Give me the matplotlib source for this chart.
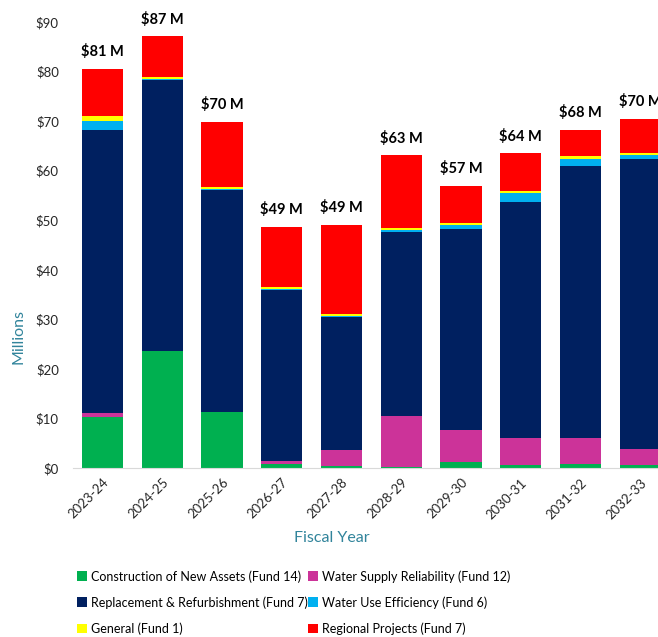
import matplotlib.pyplot as plt
import numpy as np

plt.rcParams['font.family'] = ['Lato', 'DejaVu Sans']

years = ["2023-24", "2024-25", "2025-26", "2026-27", "2027-28",
         "2028-29", "2029-30", "2030-31", "2031-32", "2032-33"]
construction = [10.2, 23.7, 11.2, 0.9, 0.5, 0.3, 1.2, 0.6, 0.9, 0.6]
supply = [0.8, 0.0, 0.0, 0.5, 3.2, 10.1, 6.5, 5.5, 5.2, 3.2]
replacement = [57.3, 54.6, 44.9, 34.5, 26.7, 37.2, 40.6, 47.6, 54.8, 58.6]
efficiency = [1.7, 0.1, 0.1, 0.2, 0.2, 0.5, 0.7, 1.7, 1.5, 0.8]
general = [1.1, 0.4, 0.5, 0.4, 0.4, 0.4, 0.4, 0.5, 0.5, 0.4]
regional = [9.4, 8.3, 13.2, 12.2, 18.0, 14.6, 7.6, 7.6, 5.4, 6.8]
total_labels = [81, 87, 70, 49, 49, 63, 57, 64, 68, 70]

series = [
    ("Construction of New Assets (Fund 14)", construction, "#00B050"),
    ("Water Supply Reliability (Fund 12)", supply, "#CC3399"),
    ("Replacement & Refurbishment (Fund 7)", replacement, "#002060"),
    ("Water Use Efficiency (Fund 6)", efficiency, "#00B0F0"),
    ("General (Fund 1)", general, "#FFFF00"),
    ("Regional Projects (Fund 7)", regional, "#FF0000"),
]

fig = plt.figure(figsize=(6.58, 6.37), dpi=100)
ax = fig.add_axes([0.1105, 0.2653, 0.908, 0.7002])

x = np.arange(len(years))
bottom = np.zeros(len(years))
bars = []
for name, vals, color in series:
    bars.append(ax.bar(x, vals, 0.69, bottom=bottom, color=color, label=name))
    bottom += np.array(vals)

for xi, top, lab in zip(x, bottom, total_labels):
    ax.annotate("\\$%d M" % lab, (xi, top), xytext=(0, 7), textcoords="offset points",
                ha="center", va="bottom", fontsize=10.5, fontweight="bold", color="black")

ax.set_xlim(-0.5, len(years) - 0.5)
ax.set_ylim(0, 90)
ax.set_yticks(np.arange(0, 91, 10))
ax.set_yticklabels(["\\$%d" % v for v in range(0, 91, 10)], fontsize=9.5, color="#262626")
ax.set_xticks(x)
ax.set_xticklabels(years, rotation=45, ha="right", rotation_mode="anchor",
                   fontsize=9.5, color="#262626")
ax.tick_params(axis="y", length=0, pad=10)
ax.tick_params(axis="x", length=0, pad=6)
for s in ["top", "right", "left"]:
    ax.spines[s].set_visible(False)
ax.spines["bottom"].set_color("#D9D9D9")

fig.text(332 / 658, 1 - 538 / 637, "Fiscal Year", ha="center", va="center",
         fontsize=11.5, color="#31849B")
fig.text(18 / 658, 1 - 337 / 637, "Millions", ha="center", va="center",
         rotation=90, fontsize=11.5, color="#31849B")

# two single-column legends, left and right
leg_kw = dict(frameon=False, loc="upper left", fontsize=9,
              handlelength=0.8, handleheight=0.8, handletextpad=0.3,
              labelspacing=1.08, borderaxespad=0, borderpad=0)
left = [0, 2, 4]
right = [1, 3, 5]
fig.legend([bars[i] for i in left], [series[i][0] for i in left],
           bbox_to_anchor=(77 / 658, 1 - 570 / 637), **leg_kw)
fig.legend([bars[i] for i in right], [series[i][0] for i in right],
           bbox_to_anchor=(308 / 658, 1 - 570 / 637), **leg_kw)

fig.savefig("out.png", dpi=100)
